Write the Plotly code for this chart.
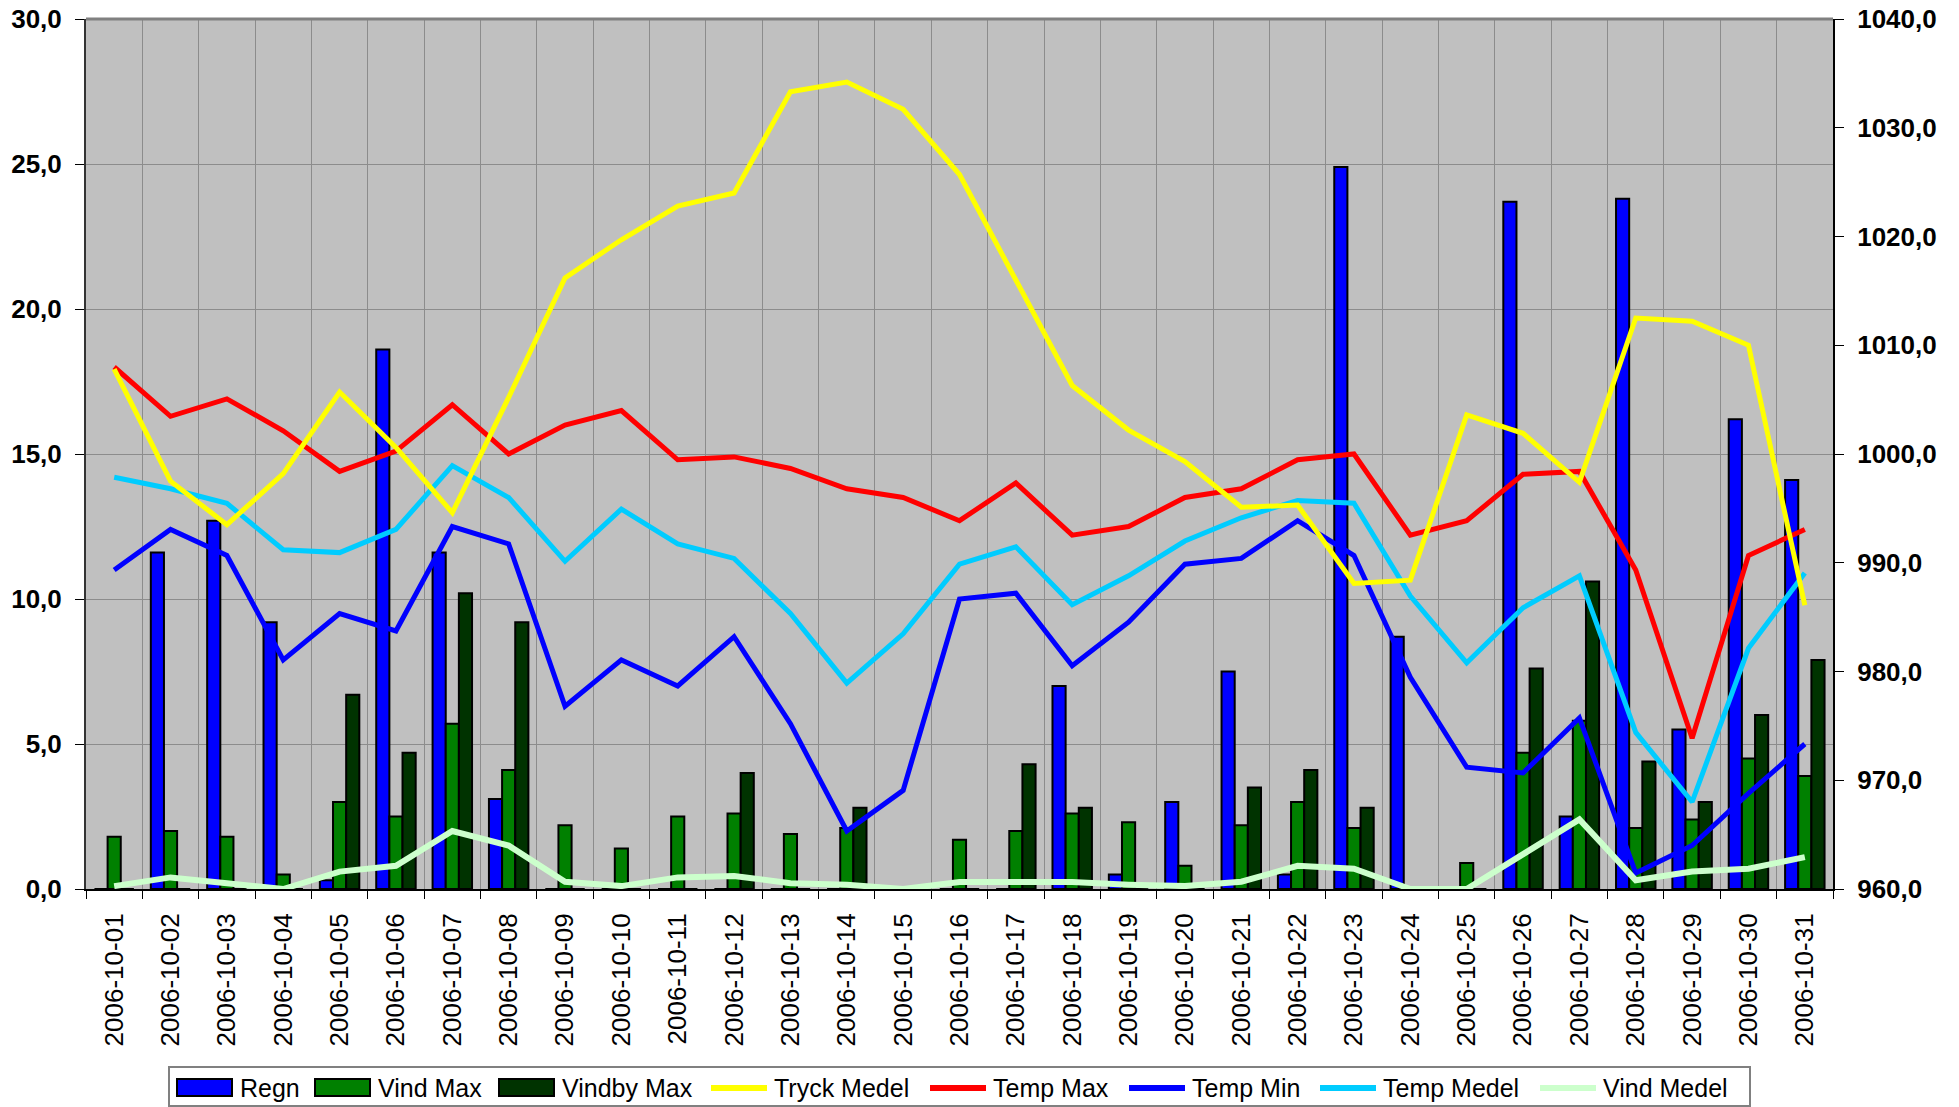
import plotly.graph_objects as go

dates = ["2006-10-%02d" % d for d in range(1, 32)]

regn = [0, 11.6, 12.7, 9.2, 0.3, 18.6, 11.6, 3.1, 0, 0, 0, 0, 0, 0, 0, 0,
        0, 7.0, 0.5, 3.0, 7.5, 0.5, 24.9, 8.7, 0, 23.7, 2.5, 23.8, 5.5, 16.2, 14.1]
vind_max = [1.8, 2.0, 1.8, 0.5, 3.0, 2.5, 5.7, 4.1, 2.2, 1.4, 2.5, 2.6, 1.9, 2.1, 0, 1.7,
            2.0, 2.6, 2.3, 0.8, 2.2, 3.0, 2.1, 0, 0.9, 4.7, 5.8, 2.1, 2.4, 4.5, 3.9]
vindby_max = [0, 0, 0, 0, 6.7, 4.7, 10.2, 9.2, 0, 0, 0, 4.0, 0, 2.8, 0, 0,
              4.3, 2.8, 0, 0, 3.5, 4.1, 2.8, 0, 0, 7.6, 10.6, 4.4, 3.0, 6.0, 7.9]
tryck_medel = [1007.8, 997.5, 993.5, 998.2, 1005.7, 1000.6, 994.6, 1005.2, 1016.2, 1019.7,
               1022.8, 1024.0, 1033.3, 1034.2, 1031.7, 1025.7, 1016.0, 1006.3, 1002.2, 999.3,
               995.1, 995.3, 988.1, 988.4, 1003.6, 1001.9, 997.4, 1012.5, 1012.2, 1010.0, 986.1]
temp_max = [18.0, 16.3, 16.9, 15.8, 14.4, 15.1, 16.7, 15.0, 16.0, 16.5, 14.8, 14.9, 14.5, 13.8,
            13.5, 12.7, 14.0, 12.2, 12.5, 13.5, 13.8, 14.8, 15.0, 12.2, 12.7, 14.3, 14.4, 11.0,
            5.2, 11.5, 12.4]
temp_min = [11.0, 12.4, 11.5, 7.9, 9.5, 8.9, 12.5, 11.9, 6.3, 7.9, 7.0, 8.7, 5.7, 2.0, 3.4,
            10.0, 10.2, 7.7, 9.2, 11.2, 11.4, 12.7, 11.5, 7.3, 4.2, 4.0, 5.9, 0.55, 1.5, 3.3, 5.0]
temp_medel = [14.2, 13.8, 13.3, 11.7, 11.6, 12.4, 14.6, 13.5, 11.3, 13.1, 11.9, 11.4, 9.5, 7.1,
              8.8, 11.2, 11.8, 9.8, 10.8, 12.0, 12.8, 13.4, 13.3, 10.1, 7.8, 9.7, 10.8, 5.4,
              3.0, 8.3, 10.9]
vind_medel = [0.1, 0.4, 0.2, 0.0, 0.6, 0.8, 2.0, 1.5, 0.25, 0.1, 0.4, 0.45, 0.2, 0.15, 0.0,
              0.24, 0.24, 0.24, 0.15, 0.1, 0.25, 0.8, 0.7, 0.0, 0.0, 1.2, 2.4, 0.3, 0.6, 0.7, 1.1]

FONT = "Liberation Sans, Arial, sans-serif"
W, H = 1959, 1107
L, R, T, B = 86, 126, 19, 218
PW, PH = W - L - R, H - T - B


def px_x(px):
    return (px - L) / PW


def px_y(py):
    return (H - B - py) / PH


fig = go.Figure()

bar_line = dict(color="black", width=2)
bars = [("Regn", regn, "#0000FF"),
        ("Vind Max", vind_max, "#008000"),
        ("Vindby Max", vindby_max, "#003300")]
for name, vals, col in bars:
    fig.add_trace(go.Bar(x=dates, y=vals, name=name, marker=dict(color=col, line=bar_line)))

lines = [("Tryck Medel", tryck_medel, "#FFFF00", 5, "y2"),
         ("Temp Max", temp_max, "#FF0000", 5, "y"),
         ("Temp Min", temp_min, "#0000FF", 5, "y"),
         ("Temp Medel", temp_medel, "#00CCFF", 5, "y"),
         ("Vind Medel", vind_medel, "#CCFFCC", 6, "y")]
for name, vals, col, w, ax in lines:
    fig.add_trace(go.Scatter(x=dates, y=vals, name=name, mode="lines", yaxis=ax,
                             line=dict(color=col, width=w)))

# hand-drawn legend box like the Excel one
shapes = [
    dict(type="line", xref="paper", yref="paper", x0=0, x1=1, y0=1, y1=1,
         line=dict(color="#808080", width=3)),
    dict(type="rect", xref="paper", yref="paper",
         x0=px_x(169), x1=px_x(1750), y0=px_y(1067), y1=px_y(1106),
         line=dict(color="#808080", width=2), fillcolor="white"),
]
annotations = []
sym_left = [177, 315, 499, 711, 930, 1129, 1320, 1540]
entries = [(n, c, "bar") for n, _, c in bars] + [(n, c, "line") for n, _, c, _, _ in lines]
yc = 1088
for sx, (name, col, kind) in zip(sym_left, entries):
    if kind == "bar":
        shapes.append(dict(type="rect", xref="paper", yref="paper",
                           x0=px_x(sx), x1=px_x(sx + 55), y0=px_y(yc + 8), y1=px_y(yc - 9),
                           fillcolor=col, line=dict(color="black", width=2)))
    else:
        shapes.append(dict(type="line", xref="paper", yref="paper",
                           x0=px_x(sx), x1=px_x(sx + 56), y0=px_y(yc), y1=px_y(yc),
                           line=dict(color=col, width=6)))
    annotations.append(dict(xref="paper", yref="paper", x=px_x(sx + 61), y=px_y(yc),
                            xanchor="left", yanchor="middle", showarrow=False, text=name,
                            font=dict(size=25, family=FONT, color="black")))

fig.update_layout(
    width=W, height=H,
    margin=dict(l=L, r=R, t=T, b=B, autoexpand=False),
    paper_bgcolor="white",
    plot_bgcolor="#C0C0C0",
    separators=",.",
    barmode="group",
    bargap=0.3,
    bargroupgap=0,
    showlegend=False,
    font=dict(family=FONT, color="black"),
    xaxis=dict(
        type="category", tickson="boundaries", automargin=False,
        showgrid=True, gridcolor="#8C8C8C", gridwidth=1,
        showline=True, linecolor="black", linewidth=2,
        ticks="outside", ticklen=8, tickcolor="black", tickwidth=1,
        tickangle=-90, ticklabelstandoff=12, tickfont=dict(size=26, family=FONT),
    ),
    yaxis=dict(
        range=[0, 30], dtick=5, tickformat=".1f", automargin=False,
        showgrid=True, gridcolor="#8C8C8C", gridwidth=1, zeroline=False,
        showline=True, linecolor="#333333", linewidth=2,
        ticks="outside", ticklen=9, tickcolor="black", ticklabelstandoff=8,
        tickfont=dict(size=26, family=FONT, weight="bold"),
    ),
    yaxis2=dict(
        range=[960, 1040], dtick=10, tickformat=".1f", automargin=False,
        overlaying="y", side="right", showgrid=False, zeroline=False,
        showline=True, linecolor="black", linewidth=2,
        ticks="outside", ticklen=9, tickcolor="black", ticklabelstandoff=8,
        tickfont=dict(size=26, family=FONT, weight="bold"),
    ),
    shapes=shapes,
    annotations=annotations,
)

# the page's default body margin would shift the figure by 8px
fig.write_html("out.html", config={"displayModeBar": False},
               post_script="document.body.style.margin='0';")
